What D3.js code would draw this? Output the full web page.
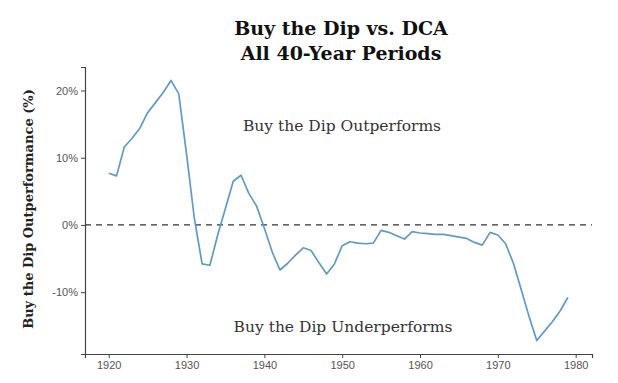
<!DOCTYPE html>
<html>
<head>
<meta charset="utf-8">
<script src="https://cdn.jsdelivr.net/npm/d3@7"></script>
<style>
  body { margin: 0; background: #fff; }
  #vis { width: 618px; height: 383px; }
</style>
</head>
<body>
<div id="vis"></div>
<script>
// start year of each 40-year period
const years = d3.range(1920, 1980);
// buy-the-dip outperformance vs DCA (%)
const outperf = [
  7.7, 7.3, 11.6, 12.9, 14.4, 16.7, 18.2, 19.7, 21.5, 19.5,
  10.5, 1.0, -5.8, -6.0, -1.5, 2.5, 6.5, 7.4, 4.7, 2.8,
  -0.5, -4.0, -6.7, -5.7, -4.5, -3.4, -3.8, -5.6, -7.3, -5.8,
  -3.1, -2.5, -2.7, -2.8, -2.7, -0.8, -1.1, -1.6, -2.1, -1.0,
  -1.2, -1.3, -1.4, -1.4, -1.6, -1.8, -2.0, -2.6, -3.0, -1.1,
  -1.5, -2.8, -5.7, -9.6, -13.6, -17.2, -15.8, -14.4, -12.8, -10.8
];
const xTicks = [1920, 1930, 1940, 1950, 1960, 1970, 1980];
const yTicks = [-10, 0, 10, 20];
const titleLines = ["Buy the Dip vs. DCA", "All 40-Year Periods"];

const W = 618, H = 383;
const svg = d3.select("#vis").append("svg")
  .attr("width", W).attr("height", H);

const x = d3.scaleLinear().domain([1916.95, 1982.1]).range([85, 592]);
const y = d3.scaleLinear().domain([-19.2, 23.5]).range([354, 67]);

const serif = "'DejaVu Serif', serif";
const sans = "'Liberation Sans', Arial, sans-serif";

// title
svg.append("g").selectAll("text")
  .data(titleLines)
  .join("text")
  .attr("x", 341)
  .attr("y", (d, i) => 35 + i * 25)
  .attr("text-anchor", "middle")
  .attr("fill", "#111")
  .style("font-family", serif)
  .style("font-weight", "bold")
  .style("font-size", "19px")
  .text(d => d);

// axes
const xAxis = svg.append("g")
  .attr("transform", `translate(0,${y.range()[0]})`)
  .call(d3.axisBottom(x).tickValues(xTicks).tickFormat(d3.format("d")).tickSizeOuter(0).tickSize(4));
const yAxis = svg.append("g")
  .attr("transform", `translate(${x.range()[0]},0)`)
  .call(d3.axisLeft(y).tickValues(yTicks).tickFormat(d => d + "%").tickSizeOuter(0).tickSize(4));

[xAxis, yAxis].forEach(a => {
  a.select(".domain").attr("stroke", "#444").attr("stroke-width", 1.2);
  a.selectAll(".tick line").attr("stroke", "#444").attr("stroke-width", 1);
  a.selectAll(".tick text")
    .attr("fill", "#555")
    .style("font-family", sans)
    .style("font-size", "11px");
});

// zero line
svg.append("line")
  .attr("x1", x.range()[0]).attr("x2", x.range()[1])
  .attr("y1", y(0)).attr("y2", y(0))
  .attr("stroke", "#333")
  .attr("stroke-width", 1.3)
  .attr("stroke-dasharray", "6,5");

// series
const line = d3.line()
  .x((d, i) => x(years[i]))
  .y(d => y(d));
svg.append("path")
  .datum(outperf)
  .attr("d", line)
  .attr("fill", "none")
  .attr("stroke", "#5e9bc9")
  .attr("stroke-width", 1.7)
  .attr("stroke-linejoin", "round");

// annotations
svg.append("text")
  .attr("x", 342).attr("y", 131)
  .attr("text-anchor", "middle")
  .attr("fill", "#333")
  .style("font-family", serif)
  .style("font-size", "15.5px")
  .text("Buy the Dip Outperforms");
svg.append("text")
  .attr("x", 343).attr("y", 332)
  .attr("text-anchor", "middle")
  .attr("fill", "#333")
  .style("font-family", serif)
  .style("font-size", "15.5px")
  .text("Buy the Dip Underperforms");

// y label
svg.append("text")
  .attr("transform", "translate(33,209) rotate(-90)")
  .attr("text-anchor", "middle")
  .attr("fill", "#222")
  .style("font-family", serif)
  .style("font-weight", "bold")
  .style("font-size", "13px")
  .text("Buy the Dip Outperformance (%)");
</script>
</body>
</html>
